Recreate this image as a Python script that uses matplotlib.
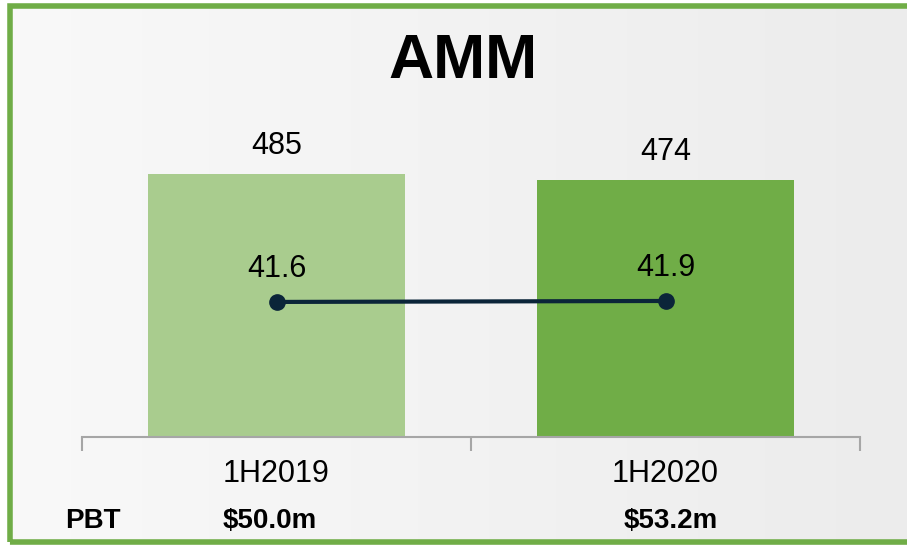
import numpy as np
import matplotlib.pyplot as plt
from matplotlib.colors import LinearSegmentedColormap
from matplotlib.patches import Rectangle

plt.rcParams['font.family'] = ['Liberation Sans', 'DejaVu Sans']

periods = ['1H2019', '1H2020']
bar_values = [485, 474]
line_values = [41.6, 41.9]
pbt_labels = ['$50.0m', '$53.2m']
bar_colors = ['#a9cc8e', '#70ad47']

fig = plt.figure(figsize=(9.07, 5.45), dpi=100)

# background gradient, light grey to slightly darker grey
bg = fig.add_axes([0, 0, 1, 1])
grad = np.linspace(0, 1, 256).reshape(1, -1)
cmap = LinearSegmentedColormap.from_list('bg', ['#f9f9f9', '#ececec'])
bg.imshow(grad, extent=[0, 1, 0, 1], aspect='auto', cmap=cmap)
bg.set_xlim(0, 1)
bg.set_ylim(0, 1)
bg.axis('off')
# white margin outside the frame
bg.add_patch(Rectangle((0, 0), 8 / 907, 1, color='white', zorder=1))
bg.add_patch(Rectangle((0, 1 - 3 / 545), 1, 3 / 545, color='white', zorder=1))
# green frame (right side runs off the picture)
bg.add_patch(Rectangle((10 / 907, 3 / 545), 1.05, 1 - 8.5 / 545, fill=False,
                       edgecolor='#70ad47', linewidth=4, zorder=2))

ax = fig.add_axes([82 / 907, 108 / 545, 778 / 907, 337 / 545])
ax.patch.set_alpha(0)
x = np.arange(len(periods))
bars = ax.bar(x, bar_values, width=0.663, color=bar_colors, zorder=2)
ax.set_xlim(-0.5, 1.5)
ax.set_ylim(0, 621.4)
for b, v in zip(bars, bar_values):
    ax.annotate(str(v), (b.get_x() + b.get_width() / 2, v), xytext=(0, 20),
                textcoords='offset points', ha='center', va='center', fontsize=22)

for s in ['top', 'right', 'left']:
    ax.spines[s].set_visible(False)
ax.spines['bottom'].set_color('#a6a6a6')
ax.spines['bottom'].set_linewidth(1.5)
ax.set_yticks([])
ax.set_xticks(x)
ax.set_xticklabels(periods, fontsize=22)
ax.tick_params(axis='x', which='major', length=0, pad=16)
ax.set_xticks([-0.5, 0.5, 1.5], minor=True)
ax.tick_params(axis='x', which='minor', length=10, width=1.5, color='#a6a6a6')

ax2 = ax.twinx()
ax2.plot(x, line_values, color='#0b2539', linewidth=3, marker='o', markersize=11, zorder=3)
ax2.set_ylim(0, 103.8)
ax2.set_yticks([])
for s in ax2.spines.values():
    s.set_visible(False)
for xi, v in zip(x, line_values):
    ax2.annotate(f'{v:.1f}', (xi, v), xytext=(0, 24), textcoords='offset points',
                 ha='center', va='center', fontsize=22)

fig.text(463 / 907, 1 - 62 / 545, 'AMM', ha='center', va='center',
         fontsize=45, fontweight='bold')
fig.text(93 / 907, 1 - 521 / 545, 'PBT', ha='center', va='center',
         fontsize=20, fontweight='bold')
for xp, lab in zip([270, 671], pbt_labels):
    fig.text(xp / 907, 1 - 521 / 545, lab, ha='center', va='center',
             fontsize=20, fontweight='bold')

fig.savefig('out.png', dpi=100)
